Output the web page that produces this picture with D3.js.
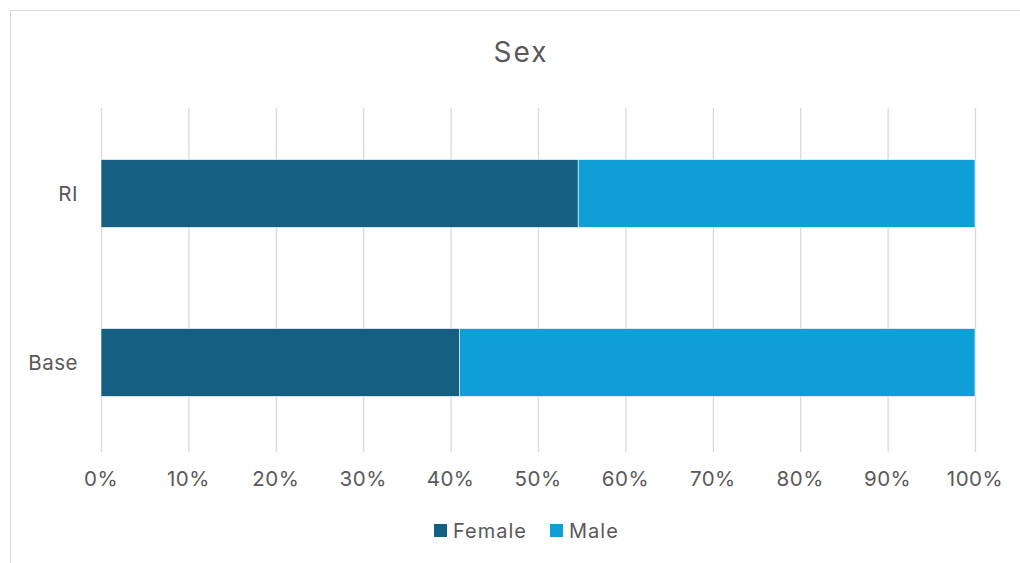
<!DOCTYPE html>
<html><head><meta charset="utf-8">
<script src="https://cdn.jsdelivr.net/npm/d3@7"></script>
<style>body{margin:0;background:#fff}svg{display:block}text{font-family:Inter,"Open Sans",sans-serif}</style>
</head><body><svg id="c" width="1020" height="563"></svg>
<script>
const categories = ["RI", "Base"];
const seriesNames = ["Female", "Male"];
const female = [54.6, 41.0];
const male = [45.4, 59.0];
const tickValues = [0,10,20,30,40,50,60,70,80,90,100];
const colors = ["#156082", "#0F9ED5"];

const svg = d3.select("#c");
svg.append("rect").attr("width",1020).attr("height",563).attr("fill","#fff");
svg.append("path").attr("d","M10.5,563 V10.5 H1020").attr("fill","none").attr("stroke","#d9d9d9").attr("stroke-width",1);

const x = d3.scaleLinear().domain([0,100]).range([101,975]);
const y = d3.scaleBand().domain(categories).range([106,450]).paddingInner(0.598).paddingOuter(0.317);

svg.append("text").attr("x",521).attr("y",62).attr("text-anchor","middle").attr("font-size",28).attr("letter-spacing",2).attr("fill","#595959").text("Sex");

const g = svg.append("g");
g.selectAll("line.grid").data(tickValues).join("line").attr("class","grid")
  .attr("x1",d=>x(d)+0.5).attr("x2",d=>x(d)+0.5).attr("y1",108).attr("y2",452)
  .attr("stroke","#d9d9d9").attr("stroke-width",1.3);

const rows = categories.map((c,i)=>({cat:c, vals:[female[i], male[i]]}));
const stacked = d3.stack().keys([0,1]).value((d,k)=>d.vals[k])(rows);
stacked.forEach((s,si)=>{
  g.selectAll(null).data(s).join("rect")
    .attr("x",d=>x(d[0])).attr("width",d=>x(d[1])-x(d[0]))
    .attr("y",d=>y(d.data.cat)).attr("height",y.bandwidth())
    .attr("fill",colors[si]).attr("stroke","#fff").attr("stroke-width",0.6);
});

svg.selectAll("text.xt").data(tickValues).join("text").attr("class","xt")
  .attr("x",d=>x(d)).attr("y",486).attr("text-anchor","middle").attr("font-size",20.5).attr("letter-spacing",0.5).attr("fill","#595959")
  .text(d=>d+"%");
svg.selectAll("text.yt").data(categories).join("text").attr("class","yt")
  .attr("x",78).attr("y",d=>y(d)+y.bandwidth()/2+7.5).attr("text-anchor","end").attr("font-size",20.5).attr("letter-spacing",0.5).attr("fill","#595959")
  .text(d=>d);

const legX = [434, 550];
seriesNames.forEach((n,i)=>{
  svg.append("rect").attr("x",legX[i]).attr("y",524).attr("width",13).attr("height",13).attr("fill",colors[i]);
  svg.append("text").attr("x",legX[i]+19).attr("y",537.5).attr("font-size",20).attr("letter-spacing",1).attr("fill","#595959").text(n);
});
</script></body></html>
